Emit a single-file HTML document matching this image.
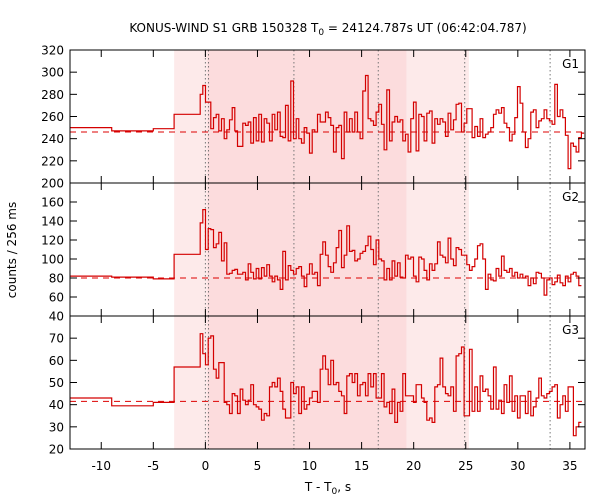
<!DOCTYPE html>
<html><head><meta charset="utf-8"><style>
body{margin:0;background:#fff;}
svg{display:block;font-family:"DejaVu Sans","Liberation Sans",sans-serif;}
</style></head><body>
<svg id="c" width="600" height="500" viewBox="0 0 600 500">
<text x="328" y="32" text-anchor="middle" font-size="12">KONUS-WIND S1 GRB 150328 T<tspan font-size="9" dy="3">0</tspan><tspan dy="-3"> = 24124.787s UT (06:42:04.787)</tspan></text>
<text x="328" y="491" text-anchor="middle" font-size="12">T - T<tspan font-size="9" dy="3">0</tspan><tspan dy="-3">, s</tspan></text>
<text x="16" y="250" text-anchor="middle" font-size="12" transform="rotate(-90 16 250)">counts / 256 ms</text>
</svg>
<script>
const xTicks=[-10,-5,0,5,10,15,20,25,30,35];
const shadeLight=[-3,25.3];
const shadeDark=[0.2,19.3];
const markerTimes=[0,0.3,8.5,16.6,24.9,33.1];
const panelNames=["G1","G2","G3"];
const preEdges=[-13,-9,-5,-3,-0.5];
const binStart=-0.5, binWidth=0.256;
const g1Pre=[250,247,249,262];
const g2Pre=[82,81,79,105];
const g3Pre=[43,39.5,41,57];
const g1Bg=246, g2Bg=80, g3Bg=41.5;
const g1Ticks=[200,220,240,260,280,300,320];
const g2Ticks=[40,60,80,100,120,140,160];
const g3Ticks=[20,30,40,50,60,70];
const g1Vals=[280,288,273,273,249,259,262,247,258,240,248,257,268,247,233,233,254,252,255,236,259,238,262,237,258,254,238,262,248,264,242,241,270,238,292,240,258,240,236,250,245,227,248,246,262,
255,255,264,259,252,228,250,252,222,264,246,258,246,264,246,240,283,297,258,256,252,264,271,253,230,284,238,255,260,255,257,238,244,228,258,273,229,262,260,238,263,265,236,258,253,258,255,242,263,248,257,271,272,246,254,267,267,241,251,242,258,241,244,246,250,262,266,263,268,254,250,238,244,259,287,272,246,232,240,264,266,250,256,258,266,258,256,253,289,260,266,259,243,213,236,233,228,241,245];
const g2Vals=[138,152,110,132,131,112,116,128,98,117,84,85,88,89,84,84,86,78,95,86,79,90,79,91,82,94,82,76,82,78,68,108,78,93,88,84,90,92,82,71,84,95,84,86,72,105,118,104,92,86,96,112,130,91,104,135,108,109,98,100,106,108,114,124,110,94,120,100,98,78,90,78,98,82,96,81,80,104,100,102,82,76,102,100,88,78,95,88,95,118,104,102,96,122,100,93,112,110,104,104,94,88,92,100,114,116,100,68,84,78,77,90,82,103,88,86,90,82,86,80,84,80,82,72,80,74,86,85,80,62,78,80,73,76,83,75,72,82,76,84,86,82,72];
const g3Vals=[72,63,58,70,71,56,52,59,59,41,40,36,45,44,36,47,42,40,42,49,40,39,38,33,36,35,48,50,48,52,46,38,34,34,50,45,48,36,48,38,40,43,46,46,41,56,62,56,49,60,49,50,46,44,36,53,54,50,54,44,49,50,44,54,48,54,43,43,54,39,41,36,47,32,41,37,54,44,44,44,41,49,49,43,41,33,34,32,48,49,61,48,45,44,48,37,62,63,66,35,35,65,37,48,37,53,46,47,44,38,57,38,42,36,49,41,53,37,44,34,44,44,36,46,35,39,43,52,44,43,45,46,48,49,34,40,44,37,48,48,26,30,32];

const svg=document.getElementById('c');
const NS='http://www.w3.org/2000/svg';
const X0=70,X1=585,T0=-13,T1=36.45;
function xs(t){return X0+(t-T0)/(T1-T0)*(X1-X0);}
function mk(tag,attrs,parent){const e=document.createElementNS(NS,tag);for(const k in attrs)e.setAttribute(k,attrs[k]);(parent||svg).appendChild(e);return e;}
const panels=[
 {top:50,bot:183,min:200,max:320,vals:g1Vals,pre:g1Pre,bg:g1Bg,ticks:g1Ticks},
 {top:183,bot:316,min:40,max:180,vals:g2Vals,pre:g2Pre,bg:g2Bg,ticks:g2Ticks},
 {top:316,bot:449,min:20,max:80,vals:g3Vals,pre:g3Pre,bg:g3Bg,ticks:g3Ticks}
];
panels.forEach((p,pi)=>{
 const ys=v=>p.bot-(v-p.min)/(p.max-p.min)*(p.bot-p.top);
 const g=mk('g',{});
 
 
 const r1=mk('rect',{x:xs(shadeLight[0]),y:p.top,width:xs(shadeLight[1])-xs(shadeLight[0]),height:p.bot-p.top,fill:'#fdeaea'},g);
 
 
 const r2=mk('rect',{x:xs(shadeDark[0]),y:p.top,width:xs(shadeDark[1])-xs(shadeDark[0]),height:p.bot-p.top,fill:'#fcdcdd'},g);
 
 
 markerTimes.forEach(t=>{
  const l=mk('line',{x1:xs(t),x2:xs(t),y1:p.top,y2:p.bot,stroke:'#777','stroke-width':1,'stroke-dasharray':'1.5,2.5'},g);
  
  
 });
 const bl=mk('line',{x1:X0,x2:X1,y1:ys(p.bg),y2:ys(p.bg),stroke:'#d00','stroke-width':1,'stroke-dasharray':'6,5'},g);
 
 
 let d='';
 for(let i=0;i<p.pre.length;i++){
  const a=xs(preEdges[i]),b=xs(preEdges[i+1]),y=ys(p.pre[i]);
  d+=(i===0?'M':'L')+a.toFixed(1)+','+y.toFixed(1)+'L'+b.toFixed(1)+','+y.toFixed(1);
 }
 for(let i=0;i<p.vals.length;i++){
  const ta=binStart+i*binWidth; if(ta>=T1)break;
  const tb=Math.min(T1,ta+binWidth);
  const y=Math.max(p.top,Math.min(p.bot,ys(p.vals[i])));
  d+='L'+xs(ta).toFixed(1)+','+y.toFixed(1)+'L'+xs(tb).toFixed(1)+','+y.toFixed(1);
 }
 const cp=mk('clipPath',{id:'cp'+pi},g);mk('rect',{x:X0,y:p.top,width:X1-X0,height:p.bot-p.top},cp);
 const path=mk('path',{d:d,fill:'none',stroke:'#d40000','stroke-width':1.2,'clip-path':'url(#cp'+pi+')'},g);
 
 
 p.ticks.forEach(v=>{
  const y=ys(v);
  mk('line',{x1:X0,x2:X0+7,y1:y,y2:y,stroke:'#000'},g);
  mk('line',{x1:X1,x2:X1-7,y1:y,y2:y,stroke:'#000'},g);
  const tx=mk('text',{x:X0-6,y:y+4.5,'text-anchor':'end','font-size':12},g);
  tx.textContent=v;
  
  
 });
 xTicks.forEach(t=>{
  const x=xs(t);
  mk('line',{x1:x,x2:x,y1:p.bot,y2:p.bot-7,stroke:'#000'},g);
  mk('line',{x1:x,x2:x,y1:p.top,y2:p.top+7,stroke:'#000'},g);
 });
 const fr=mk('rect',{x:X0,y:p.top,width:X1-X0,height:p.bot-p.top,fill:'none',stroke:'#000','stroke-width':1},g);
 
 
 const lb=mk('text',{x:X1-6,y:p.top+18,'text-anchor':'end','font-size':12},g);
 lb.textContent=panelNames[pi];
 
 
});
xTicks.forEach(t=>{
 const tx=mk('text',{x:xs(t),y:470,'text-anchor':'middle','font-size':12});
 tx.textContent=t;
 
 
});
</script>
</body></html>
